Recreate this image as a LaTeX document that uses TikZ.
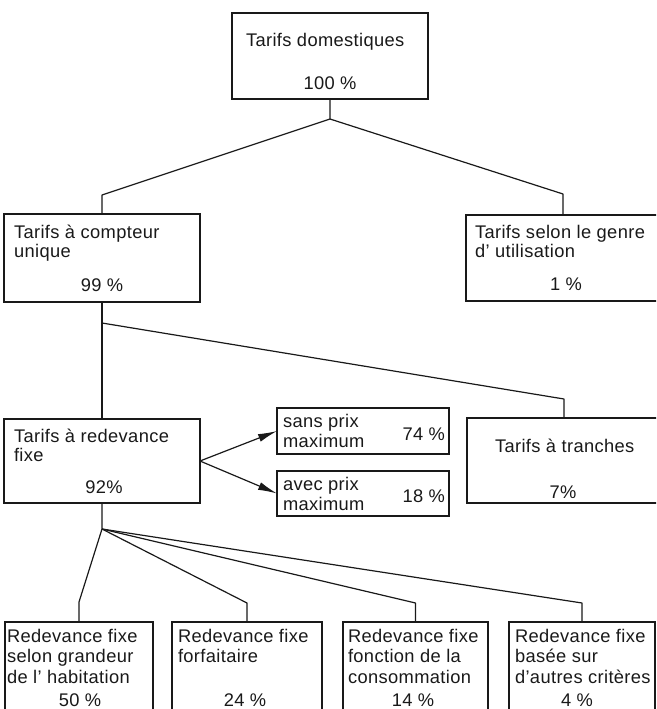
\documentclass[tikz,border=0pt]{standalone}
\usepackage{fontspec}
\setmainfont[LetterSpace=2]{Liberation Sans}
\usetikzlibrary{arrows.meta}
\tikzset{
  box/.style={draw=black!90, line width=1.2pt, inner sep=0pt, outer sep=0pt, rectangle},
  txt/.style={inner sep=0pt, outer sep=0pt, text=black!90, font=\fontsize{18.3}{20}\selectfont},
  conn/.style={draw=black!90, line width=1.2pt, line join=round},
  arr/.style={draw=black!90, line width=1.2pt, -{Latex[length=19pt,width=8pt]}}
}
\begin{document}
\begin{tikzpicture}[x=1pt,y=-1pt]
\useasboundingbox (0,0) rectangle (656,709);
\clip (0,0) rectangle (656,709);
% boxes
\node[box, minimum width=196pt, minimum height=86pt] (b1) at (330,56) {};
\node[box, minimum width=196pt, minimum height=88pt] (b2) at (102,258) {};
\node[box, minimum width=194pt, minimum height=86pt] (b3) at (563,258) {};
\node[box, minimum width=196pt, minimum height=84pt] (b4) at (102,461) {};
\node[box, minimum width=172pt, minimum height=46pt] (sp) at (363,431) {};
\node[box, minimum width=172pt, minimum height=45pt] (ap) at (363,493.5) {};
\node[box, minimum width=194pt, minimum height=85pt] (tr) at (564,460.5) {};
\node[box, minimum width=148pt, minimum height=130pt] (ra) at (79,687) {};
\node[box, minimum width=150pt, minimum height=130pt] (rb) at (247,687) {};
\node[box, minimum width=145pt, minimum height=130pt] (rc) at (415.5,687) {};
\node[box, minimum width=146pt, minimum height=130pt] (rd) at (582,687) {};
% texts
\node[txt, anchor=base west] (t1a) at (246,47) {Tarifs domestiques};
\node[txt, anchor=base] (t1p) at (330,89) {100 \%};
\node[txt, anchor=base west] (t2a) at (14,238) {Tarifs à compteur};
\node[txt, anchor=base west] (t2b) at (14,257) {unique};
\node[txt, anchor=base] (t2p) at (102,291) {99 \%};
\node[txt, anchor=base west] (t3a) at (475,238) {Tarifs selon le genre};
\node[txt, anchor=base west] (t3b) at (475,257) {d' utilisation};
\node[txt, anchor=base] (t3p) at (566,290) {1 \%};
\node[txt, anchor=base west] (t4a) at (14,442) {Tarifs à redevance};
\node[txt, anchor=base west] (t4b) at (14,461) {fixe};
\node[txt, anchor=base] (t4p) at (104,493) {92\%};
\node[txt, anchor=base west] (tsa) at (283,427) {sans prix};
\node[txt, anchor=base west] (tsb) at (283,447) {maximum};
\node[txt, anchor=base east] (tsp) at (445,440) {74 \%};
\node[txt, anchor=base west] (taa) at (283,490) {avec prix};
\node[txt, anchor=base west] (tab) at (283,510) {maximum};
\node[txt, anchor=base east] (tap) at (445,502) {18 \%};
\node[txt, anchor=base west] (tta) at (495,452) {Tarifs à tranches};
\node[txt, anchor=base] (ttp) at (563,498) {7\%};
\node[txt, anchor=base west] (raa) at (7,642) {Redevance fixe};
\node[txt, anchor=base west] (rab) at (7,662) {selon grandeur};
\node[txt, anchor=base west] (rac) at (7,683) {de l' habitation};
\node[txt, anchor=base] (rap) at (80,706) {50 \%};
\node[txt, anchor=base west] (rba) at (178,642) {Redevance fixe};
\node[txt, anchor=base west] (rbb) at (178,662) {forfaitaire};
\node[txt, anchor=base] (rbp) at (245,706) {24 \%};
\node[txt, anchor=base west] (rca) at (348,642) {Redevance fixe};
\node[txt, anchor=base west] (rcb) at (348,662) {fonction de la};
\node[txt, anchor=base west] (rcc) at (348,683) {consommation};
\node[txt, anchor=base] (rcp) at (413,706) {14 \%};
\node[txt, anchor=base west] (rda) at (515,642) {Redevance fixe};
\node[txt, anchor=base west] (rdb) at (515,662) {basée sur};
\node[txt, anchor=base west] (rdc) at (515,683) {d'autres critères};
\node[txt, anchor=base] (rdp) at (577,706) {4 \%};
% junctions and bends
\coordinate (j1) at (330,119);
\coordinate (k2) at (102,195);
\coordinate (k3) at (563,194);
\coordinate (j2) at (102,323);
\coordinate (kt) at (564,399);
\coordinate (j3) at (102,529);
\coordinate (ka) at (79,602);
\coordinate (kb) at (247,603);
\coordinate (kc) at (415.5,603);
\coordinate (kd) at (582,603);
% connectors
\draw[conn] (b1.south) -- (j1) -- (k2) -- (b2.north);
\draw[conn] (j1) -- (k3) -- (b3.north);
\draw[conn] (b2.south) -- (j2) -- (b4.north);
\draw[conn] (j2) -- (kt) -- (tr.north);
\draw[arr] (b4.east) -- (sp.west);
\draw[arr] (b4.east) -- (ap.west);
\draw[conn] (b4.south) -- (j3) -- (ka) -- (ra.north);
\draw[conn] (j3) -- (kb) -- (rb.north);
\draw[conn] (j3) -- (kc) -- (rc.north);
\draw[conn] (j3) -- (kd) -- (rd.north);
\end{tikzpicture}
\end{document}
